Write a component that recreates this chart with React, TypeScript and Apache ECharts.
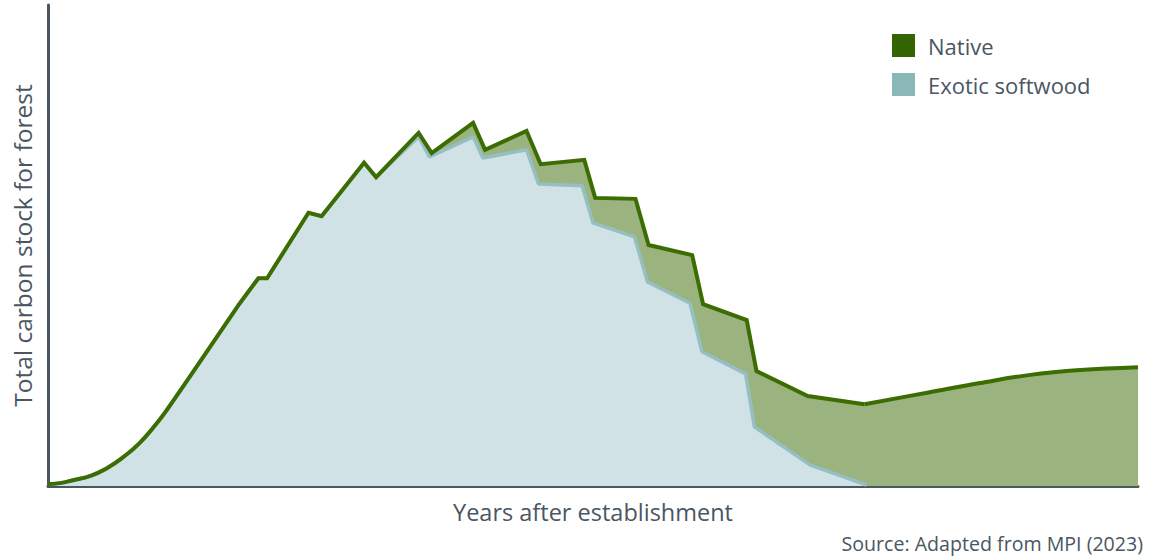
import React, { useEffect, useRef } from "react";
import * as echarts from "echarts";

const FONT = "'Open Sans', 'Noto Sans', sans-serif";
const TEXT_COLOR = "#4a5661";

const seriesNames = ["Native", "Exotic softwood"];

// [years (relative), carbon stock (relative)]
const nativeX = [0, 1.1, 2.3, 3.9, 5.4, 6.9, 8.4, 10.0, 10.9, 13.0, 17.6, 19.3, 20.1, 23.9, 25.1, 29.0, 30.1, 34.0, 35.2, 39.0, 40.1, 43.9, 45.2, 49.2, 50.2, 53.9, 55.1, 59.1, 60.1, 64.1, 65.0, 69.7, 74.9, 80.9, 85.5, 90.1, 94.7, 100];
const nativeY = [0.4, 0.6, 1.2, 2.1, 3.7, 6.0, 8.9, 13.1, 15.8, 22.7, 38.0, 43.2, 43.2, 56.8, 56.1, 67.2, 64.2, 73.4, 69.2, 75.5, 69.9, 73.8, 66.9, 67.8, 59.9, 59.7, 50.1, 48.0, 37.8, 34.5, 23.9, 18.7, 17.0, 19.5, 21.4, 23.1, 24.1, 24.7];

const exoticX = [0, 1.1, 2.3, 3.9, 5.4, 6.9, 8.4, 10.0, 10.9, 13.0, 17.6, 19.3, 20.1, 23.9, 25.1, 29.0, 30.1, 34.0, 35.0, 39.0, 39.9, 43.9, 45.0, 49.0, 50.0, 53.8, 55.0, 58.9, 60.0, 64.0, 64.8, 69.9, 75.1];
const exoticY = [0.4, 0.6, 1.2, 2.1, 3.7, 6.0, 8.9, 13.1, 15.8, 22.7, 38.0, 43.2, 43.2, 56.8, 56.1, 67.2, 64.2, 72.6, 68.4, 72.6, 68.2, 69.9, 62.8, 62.4, 54.7, 51.8, 42.4, 38.0, 27.9, 23.3, 12.3, 4.4, 0.2];

// index ranges of the native curve drawn smoothed (establishment curve, recovery curve)
const curveStartEnd = 10;
const curveTailStart = 32;

const xTitle = "Years after establishment";
const yTitle = "Total carbon stock for forest";
const sourceText = "Source: Adapted from MPI (2023)";

const pairs = (xs: number[], ys: number[]) => xs.map((x, i) => [x, ys[i]]);

export default function App() {
  const ref = useRef<HTMLDivElement>(null);
  useEffect(() => {
    if (!ref.current) return;
    const chart = echarts.init(ref.current, undefined, { renderer: "svg" });
    const nativeData = pairs(nativeX, nativeY);
    const exoticData = pairs(exoticX, exoticY);
    const lineBase = {
      type: "line",
      showSymbol: false,
      silent: true,
      itemStyle: { color: "#3b6d02" },
      lineStyle: { width: 4, color: "#3b6d02", join: "miter" },
    };
    chart.setOption({
      animation: false,
      grid: { left: 48, right: 11, top: 5, bottom: 73, outerBoundsMode: "none", containLabel: false },
      legend: {
        data: seriesNames,
        orient: "vertical",
        left: 892,
        top: 34,
        icon: "rect",
        itemWidth: 23,
        itemHeight: 23,
        itemGap: 16,
        padding: 0,
        selectedMode: false,
        textStyle: { fontFamily: FONT, fontSize: 22, color: TEXT_COLOR, padding: [0, 0, 0, 8] },
      },
      xAxis: {
        type: "value",
        min: 0,
        max: 100,
        name: xTitle,
        nameLocation: "middle",
        nameGap: 14,
        nameTextStyle: { fontFamily: FONT, fontSize: 23.5, color: TEXT_COLOR },
        axisLine: { show: true, lineStyle: { color: "#4b5661", width: 3 } },
        axisTick: { show: false },
        axisLabel: { show: false },
        splitLine: { show: false },
      },
      yAxis: {
        type: "value",
        min: 0,
        max: 100,
        name: yTitle,
        nameLocation: "middle",
        nameGap: 13,
        nameTextStyle: { fontFamily: FONT, fontSize: 24.5, color: TEXT_COLOR },
        axisLine: { show: true, lineStyle: { color: "#4b5661", width: 3 } },
        axisTick: { show: false },
        axisLabel: { show: false },
        splitLine: { show: false },
      },
      series: [
        {
          name: "Native",
          type: "line",
          data: nativeData,
          showSymbol: false,
          silent: true,
          itemStyle: { color: "#336600" },
          lineStyle: { width: 0, color: "#3b6d02" },
          areaStyle: { color: "#9bb47f", opacity: 1 },
        },
        {
          name: "Exotic softwood",
          type: "line",
          data: exoticData,
          showSymbol: false,
          silent: true,
          itemStyle: { color: "#8ab8b8" },
          lineStyle: { width: 3.5, color: "#96bfc3" },
          areaStyle: { color: "#d1e2e6", opacity: 1 },
        },
        { ...lineBase, name: "Native line a", data: nativeData.slice(0, curveStartEnd + 1), smooth: 0.5 },
        { ...lineBase, name: "Native line b", data: nativeData.slice(curveStartEnd, curveTailStart + 1) },
        { ...lineBase, name: "Native line c", data: nativeData.slice(curveTailStart), smooth: 0.4 },
      ],
      graphic: [
        {
          type: "text",
          right: 6,
          top: 533,
          style: { text: sourceText, fontFamily: FONT, fontSize: 19.6, fill: TEXT_COLOR },
        },
      ],
    });
    return () => chart.dispose();
  }, []);
  return <div ref={ref} style={{ width: 1149, height: 559, position: "absolute", left: 0, top: 0 }} />;
}
